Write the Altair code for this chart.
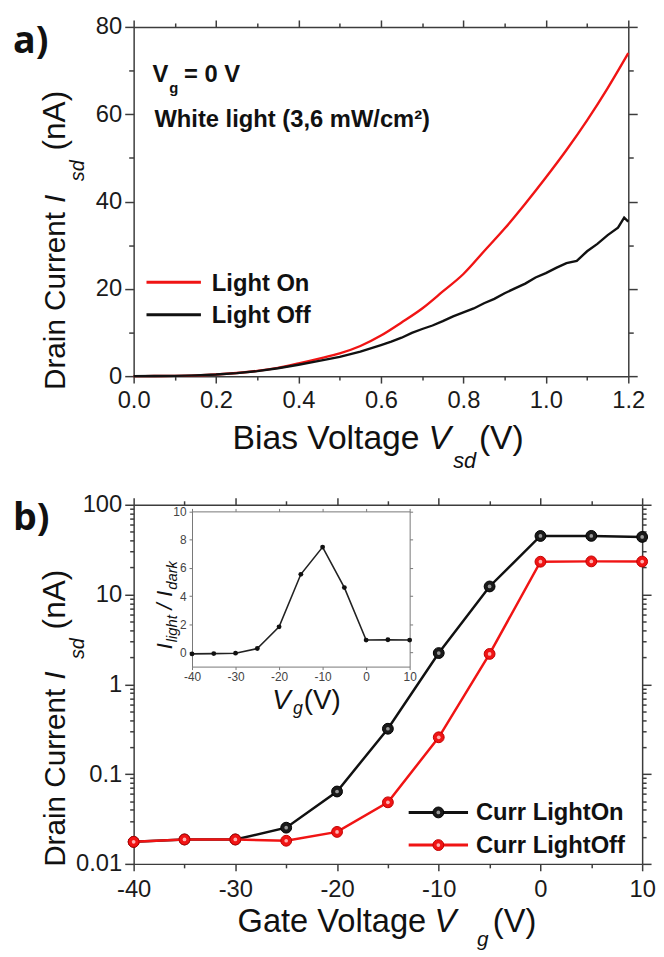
import altair as alt
import pandas as pd

# ---------------- panel a data ----------------
VSD_ON = [0.0, 0.05, 0.1, 0.15, 0.2, 0.25, 0.3, 0.35, 0.4, 0.45, 0.5, 0.55, 0.6,
          0.65, 0.7, 0.75, 0.8, 0.85, 0.9, 0.95, 1.0, 1.05, 1.1, 1.15, 1.2]
I_ON_A = [0.0, 0.02, 0.07, 0.18, 0.38, 0.72, 1.2, 1.9, 2.9, 4.0, 5.2, 6.9, 9.3,
          12.3, 15.5, 19.4, 23.4, 28.6, 33.8, 39.5, 45.5, 51.8, 58.6, 66.0, 74.0]
VSD_OFF = [0.0, 0.05, 0.1, 0.15, 0.2, 0.25, 0.3, 0.35, 0.4, 0.45, 0.5, 0.55, 0.6,
           0.625, 0.65, 0.675, 0.7, 0.725, 0.75, 0.775, 0.8, 0.825, 0.85, 0.875,
           0.9, 0.925, 0.95, 0.975, 1.0, 1.025, 1.05, 1.075, 1.1, 1.125, 1.15,
           1.175, 1.19, 1.2]
I_OFF_A = [0.0, 0.02, 0.07, 0.18, 0.37, 0.7, 1.15, 1.8, 2.6, 3.5, 4.4, 5.6, 7.1,
           7.9, 8.8, 9.9, 10.8, 11.6, 12.6, 13.7, 14.6, 15.5, 16.7, 17.7,
           19.0, 20.1, 21.2, 22.6, 23.6, 24.8, 25.9, 26.4, 28.6, 30.3, 32.3,
           34.0, 36.3, 35.4]
LEGEND_A = ["Light On", "Light Off"]

# ---------------- panel b data ----------------
VG = [-40, -35, -30, -25, -20, -15, -10, -5, 0, 5, 10]
I_ON_B = [0.0176, 0.0187, 0.0187, 0.0253, 0.064, 0.32, 2.23, 12.3, 44.9, 45.0, 43.8]
I_OFF_B = [0.0176, 0.0187, 0.0187, 0.0181, 0.0227, 0.0485, 0.257, 2.18, 23.2, 23.4, 23.3]
LEGEND_B = ["Curr LightOn", "Curr LightOff"]
RATIO = [-0.1, -0.08, -0.05, 0.28, 1.82, 5.54, 7.47, 4.6, 0.88, 0.9, 0.88]

# ---------------- ticks ----------------
X_TICKS_A = [0.0, 0.1, 0.2, 0.3, 0.4, 0.5, 0.6, 0.7, 0.8, 0.9, 1.0, 1.1, 1.2]
Y_TICKS_A = [0, 10, 20, 30, 40, 50, 60, 70, 80]
X_TICKS_B = [-40, -35, -30, -25, -20, -15, -10, -5, 0, 5, 10]
Y_TICKS_B = [0.01, 0.02, 0.03, 0.04, 0.05, 0.06, 0.07, 0.08, 0.09,
             0.1, 0.2, 0.3, 0.4, 0.5, 0.6, 0.7, 0.8, 0.9,
             1, 2, 3, 4, 5, 6, 7, 8, 9,
             10, 20, 30, 40, 50, 60, 70, 80, 90, 100]
X_TICKS_IN = [-40, -30, -20, -10, 0, 10]
Y_TICKS_IN = [0, 2, 4, 6, 8, 10]

# ---------------- style / layout ----------------
FONT = "Liberation Sans"
AX = "#3c3c3c"
RED = "#f01414"
BLK = "#111111"
LEFT = 134
TOP_A, W_A, H_A = 21, 500, 353
TOP_B, W_B, H_B = 504, 514, 363
SPACING = TOP_B - (TOP_A + H_A)


def one():
    return alt.Data(values=[{"k": 0}])


def make_axis(orient, values, test=None, label_expr=None, big=8, small=4, pad=4,
              size=24, offset=None, color=AX, width=1.5, lcolor="#1a1a1a"):
    kw = dict(orient=orient, values=values, title=None, grid=False,
              domainColor=color, domainWidth=width, tickColor=color, tickWidth=width,
              labelFont=FONT, labelFontSize=size, labelColor=lcolor, labelPadding=pad,
              labelFlush=False, labelOverlap=False)
    if test is not None:
        kw["tickSize"] = {"condition": {"test": test, "value": big}, "value": small}
    else:
        kw["tickSize"] = big
    if label_expr is None:
        kw["labels"] = False
    else:
        kw["labelExpr"] = label_expr
    if offset is not None:
        kw["offset"] = offset
    return alt.Axis(**kw)


def label(s, x, y, size, left, top, weight="normal", style="normal", angle=0,
          font=FONT, color="#111111"):
    return alt.Chart(one()).mark_text(
        text=s, font=font, fontSize=size, fontWeight=weight, fontStyle=style,
        angle=angle, align="left", baseline="alphabetic", color=color
    ).encode(x=alt.value(x - left), y=alt.value(y - top))


def hline(x1, x2, y, color, w, left, top):
    return alt.Chart(one()).mark_rule(color=color, strokeWidth=w).encode(
        x=alt.value(x1 - left), x2=alt.value(x2 - left), y=alt.value(y - top))


def dot(x, y, size, color, left, top, stroke=None):
    kw = dict(size=size, color=color, opacity=1)
    if stroke:
        kw.update(stroke=stroke, strokeWidth=1)
    return alt.Chart(one()).mark_circle(**kw).encode(
        x=alt.value(x - left), y=alt.value(y - top))


# ================= panel a =================
df_on = pd.DataFrame({"V": VSD_ON, "I": I_ON_A})
df_off = pd.DataFrame({"V": VSD_OFF, "I": I_OFF_A})
xs_a = alt.Scale(domain=[0, 1.2], nice=False, zero=False)
ys_a = alt.Scale(domain=[0, 80], nice=False, zero=False)
t_xa = "abs(datum.value*5 - round(datum.value*5)) < 0.001"
t_ya = "datum.value % 20 === 0"

red_a = alt.Chart(df_on).mark_line(color=RED, strokeWidth=2.4, interpolate="monotone").encode(
    x=alt.X("V:Q", scale=xs_a,
            axis=make_axis("bottom", X_TICKS_A, t_xa,
                           f"({t_xa}) ? format(datum.value, '.1f') : ''", 7, 4, 6)),
    y=alt.Y("I:Q", scale=ys_a,
            axis=make_axis("left", Y_TICKS_A, t_ya,
                           f"({t_ya}) ? datum.value + '' : ''", 9, 5, 3)),
)
blk_a = alt.Chart(df_off).mark_line(color=BLK, strokeWidth=2.4).encode(
    x=alt.X("V:Q", scale=xs_a, axis=make_axis("top", X_TICKS_A, t_xa, None, 7, 4)),
    y=alt.Y("I:Q", scale=ys_a, axis=make_axis("right", Y_TICKS_A, t_ya, None, 9, 5)),
)
anchor = alt.Chart(one()).mark_rule(opacity=0, strokeWidth=0).encode(
    x=alt.value(-126), x2=alt.value(-126), y=alt.value(-13), y2=alt.value(-13))

LA = (LEFT, TOP_A)
texts_a = [
    label("a)", 12, 47, 38, *LA, weight="bold", font="Open Sans"),
    # y title
    label("Drain Current", 65, 388, 30, *LA, angle=270),
    label("I", 65, 199, 30, *LA, style="italic", angle=270),
    label("sd", 84, 177, 20, *LA, style="italic", angle=270),
    label("(nA)", 65, 146, 32, *LA, angle=270),
    # x title
    label("Bias Voltage", 234, 448, 34, *LA),
    label("V", 432, 448, 34, *LA, style="italic"),
    label("sd", 457, 467, 22, *LA, style="italic"),
    label("(V)", 483, 448, 34, *LA),
    # annotation
    label("V", 153, 77, 24, *LA, weight="bold"),
    label("g", 170, 88, 15, *LA, weight="bold"),
    label("= 0 V", 185, 77, 24, *LA, weight="bold"),
    label("White light (3,6 mW/cm\u00b2)", 155, 122, 24, *LA, weight="bold"),
    # legend
    hline(147, 202, 279, RED, 3, *LA),
    hline(147, 202, 312, BLK, 3, *LA),
    label(LEGEND_A[0], 213, 288, 24, *LA, weight="bold"),
    label(LEGEND_A[1], 213, 320, 24, *LA, weight="bold"),
]

panel_a = alt.layer(red_a, blk_a, anchor, *texts_a).resolve_axis(
    x="independent", y="independent").properties(width=W_A, height=H_A)

# ================= panel b =================
df_b_on = pd.DataFrame({"Vg": VG, "I": I_ON_B})
df_b_off = pd.DataFrame({"Vg": VG, "I": I_OFF_B})
xs_b = alt.Scale(domain=[-40, 10], nice=False, zero=False)
ys_b = alt.Scale(type="log", domain=[0.01, 100], nice=False)
t_xb = "datum.value % 10 === 0"
t_yb = "abs(log(datum.value)/LN10 - round(log(datum.value)/LN10)) < 0.001"

NOAX_X = alt.X("Vg:Q", scale=xs_b, axis=None)
NOAX_Y = alt.Y("I:Q", scale=ys_b, axis=None)

blk_line = alt.Chart(df_b_on).mark_line(color=BLK, strokeWidth=2.5).encode(
    x=alt.X("Vg:Q", scale=xs_b,
            axis=make_axis("bottom", X_TICKS_B, t_xb,
                           f"({t_xb}) ? datum.value + '' : ''", 7, 4, 7)),
    y=alt.Y("I:Q", scale=ys_b,
            axis=make_axis("left", Y_TICKS_B, t_yb,
                           f"({t_yb}) ? format(datum.value, '~g') : ''", 9, 4, 3)),
)
blk_pts = alt.Chart(df_b_on).mark_circle(size=120, color="#1a1a1a", stroke="#000000",
                                         strokeWidth=1, opacity=1).encode(x=NOAX_X, y=NOAX_Y)
blk_hi = alt.Chart(df_b_on).mark_circle(size=14, color="#9a9a9a", opacity=1).encode(x=NOAX_X, y=NOAX_Y)
red_line = alt.Chart(df_b_off).mark_line(color=RED, strokeWidth=2.5).encode(
    x=alt.X("Vg:Q", scale=xs_b, axis=make_axis("top", X_TICKS_B, t_xb, None, 7, 4)),
    y=alt.Y("I:Q", scale=ys_b, axis=make_axis("right", Y_TICKS_B, t_yb, None, 9, 4)),
)
red_pts = alt.Chart(df_b_off).mark_circle(size=120, color=RED, stroke="#c00000",
                                          strokeWidth=1, opacity=1).encode(x=NOAX_X, y=NOAX_Y)
red_hi = alt.Chart(df_b_off).mark_circle(size=14, color="#ffb0b0", opacity=1).encode(x=NOAX_X, y=NOAX_Y)

main_b = alt.layer(blk_line, blk_pts, blk_hi, red_line, red_pts, red_hi).resolve_axis(
    x="independent", y="independent")

# inset
IN_L, IN_R, IN_T, IN_B = 193 - LEFT, 413 - LEFT, 510.7 - TOP_B, 667.6 - TOP_B
df_in = pd.DataFrame({"Vg": VG, "R": RATIO})
xs_in = alt.Scale(domain=[-40, 10], nice=False, zero=False, range=[IN_L, IN_R])
ys_in = alt.Scale(domain=[-1, 10], nice=False, zero=False, range=[IN_B, IN_T])
IN_AX = dict(size=12, color="#777777", width=1, lcolor="#444444")
in_line = alt.Chart(df_in).mark_line(color="#222222", strokeWidth=1.6).encode(
    x=alt.X("Vg:Q", scale=xs_in,
            axis=make_axis("bottom", X_TICKS_IN, None, "datum.value + ''", 3, 3, 2,
                           offset=IN_B - H_B, **IN_AX)),
    y=alt.Y("R:Q", scale=ys_in,
            axis=make_axis("left", Y_TICKS_IN, None, "datum.value + ''", 3, 3, 3,
                           offset=-IN_L, **IN_AX)),
)
in_pts = alt.Chart(df_in).mark_circle(size=24, color="#111111", opacity=1).encode(
    x=alt.X("Vg:Q", scale=xs_in,
            axis=make_axis("top", X_TICKS_IN, None, None, 3, 3, offset=-IN_T, **IN_AX)),
    y=alt.Y("R:Q", scale=ys_in,
            axis=make_axis("right", Y_TICKS_IN, None, None, 3, 3, offset=IN_R - W_B, **IN_AX)),
)
inset = alt.layer(in_line, in_pts).resolve_axis(x="independent", y="independent")

LB = (LEFT, TOP_B)
texts_b = [
    label("b)", 12, 530, 38, *LB, weight="bold", font="Open Sans"),
    # y title
    label("Drain Current", 65, 870, 30, *LB, angle=270),
    label("I", 65, 681, 30, *LB, style="italic", angle=270),
    label("sd", 84, 660, 20, *LB, style="italic", angle=270),
    label("(nA)", 65, 630, 32, *LB, angle=270),
    # x title
    label("Gate Voltage", 239, 936, 33, *LB),
    label("V", 438, 936, 33, *LB, style="italic"),
    label("g", 481, 950, 21, *LB, style="italic"),
    label("(V)", 497, 936, 33, *LB),
    # inset titles
    label("I", 173, 650, 22, *LB, style="italic", angle=270),
    label("light", 178, 643, 15, *LB, style="italic", angle=270),
    label("/", 173, 610, 22, *LB, style="italic", angle=270),
    label("I", 173, 597, 22, *LB, style="italic", angle=270),
    label("dark", 178, 590, 15, *LB, style="italic", angle=270),
    label("V", 274, 710, 28, *LB, style="italic"),
    label("g", 295, 716, 18, *LB, style="italic"),
    label("(V)", 306, 710, 28, *LB),
    # legend
    hline(412, 472, 815, BLK, 3, *LB),
    hline(412, 472, 848, RED, 3, *LB),
    dot(442, 815, 120, "#1a1a1a", *LB, stroke="#000000"),
    dot(442, 815, 14, "#9a9a9a", *LB),
    dot(442, 848, 120, RED, *LB, stroke="#c00000"),
    dot(442, 848, 14, "#ffb0b0", *LB),
    label(LEGEND_B[0], 480, 823, 24, *LB, weight="bold"),
    label(LEGEND_B[1], 480, 856, 24, *LB, weight="bold"),
]

panel_b = alt.layer(main_b, inset, *texts_b).resolve_scale(
    x="independent", y="independent").properties(width=W_B, height=H_B)

chart = alt.vconcat(panel_a, panel_b, spacing=SPACING, bounds="flush").properties(
    padding=0).configure_view(stroke="transparent")

chart.save("out.html", embed_options={"renderer": "svg", "actions": False})
